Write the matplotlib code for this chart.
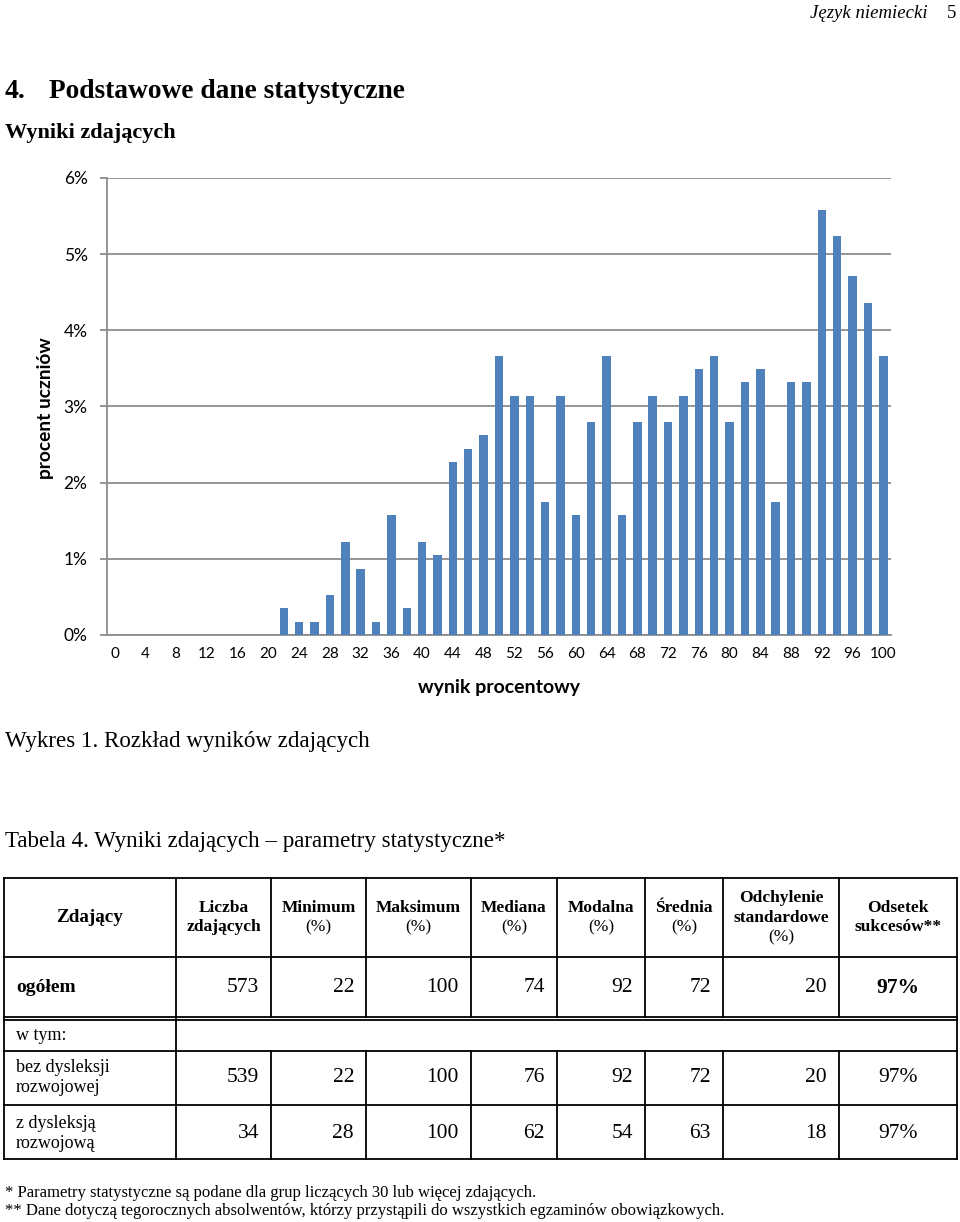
import matplotlib
matplotlib.use("Agg")
import matplotlib.pyplot as plt

# wynik procentowy (co 2 punkty) i procent uczniów
scores = list(range(0, 101, 2))
percent = [0.0] * 11 + [
    0.35, 0.17, 0.17, 0.52, 1.22, 0.87, 0.17, 1.57, 0.35, 1.22,
    1.05, 2.27, 2.44, 2.62, 3.66, 3.14, 3.14, 1.75, 3.14, 1.57,
    2.79, 3.66, 1.57, 2.79, 3.14, 2.79, 3.14, 3.49, 3.66, 2.79,
    3.32, 3.49, 1.75, 3.32, 3.32, 5.58, 5.24, 4.71, 4.36, 3.66,
]
y_ticks = [0, 1, 2, 3, 4, 5, 6]
x_tick_labels = [str(s) for s in range(0, 101, 4)]

# tabela
col_headers = [
    ["Zdający"],
    ["Liczba", "zdających"],
    ["Minimum", "(%)"],
    ["Maksimum", "(%)"],
    ["Mediana", "(%)"],
    ["Modalna", "(%)"],
    ["Średnia", "(%)"],
    ["Odchylenie", "standardowe", "(%)"],
    ["Odsetek", "sukcesów**"],
]
row_total = ["573", "22", "100", "74", "92", "72", "20", "97%"]
row_bez = ["539", "22", "100", "76", "92", "72", "20", "97%"]
row_z = ["34", "28", "100", "62", "54", "63", "18", "97%"]

SERIF = "Liberation Serif"
SANS = "Lato"
BAR = "#4F81BD"
GRID = "#8C8C8C"

W, H = 960, 1222
fig = plt.figure(figsize=(W / 100, H / 100), dpi=100)

page = fig.add_axes([0, 0, 1, 1])
page.set_xlim(0, W)
page.set_ylim(H, 0)
page.axis("off")

# nagłówki strony
page.text(928, 18, "Język niemiecki", family=SERIF, style="italic", fontsize=13.5,
          ha="right", va="baseline")
page.text(956, 18, "5", family=SERIF, fontsize=13.5, ha="right", va="baseline")
page.text(5, 98, "4.", family=SERIF, weight="bold", fontsize=20, va="baseline")
page.text(49, 98, "Podstawowe dane statystyczne", family=SERIF, weight="bold",
          fontsize=19.7, va="baseline")
page.text(5, 138, "Wyniki zdających", family=SERIF, weight="bold", fontsize=16,
          va="baseline")

# wykres
left, right, top, bottom = 107, 891, 178, 635
ax = fig.add_axes([left / W, 1 - bottom / H, (right - left) / W, (bottom - top) / H])
ax.set_facecolor("none")
ax.bar(scores, percent, width=1.1, color=BAR, zorder=3)
ax.set_xlim(-1, 101)
ax.set_ylim(0, 6)
ax.set_yticks(y_ticks)
ax.set_yticklabels([f"{t}%" for t in y_ticks], family=SANS, fontsize=12.5)
ax.set_xticks(range(0, 101, 4))
ax.set_xticklabels(x_tick_labels, family=SANS, fontsize=11)
ax.yaxis.grid(True, color=GRID, lw=1.3, zorder=0)
ax.tick_params(axis="y", length=5, width=1.3, color=GRID, pad=9)
ax.tick_params(axis="x", length=0, pad=9)
for s in ["top", "right"]:
    ax.spines[s].set_visible(False)
for s in ["left", "bottom"]:
    ax.spines[s].set_color(GRID)
    ax.spines[s].set_linewidth(1.3)

page.text(45, 408, "procent uczniów", family=SANS, weight="bold", fontsize=13.8,
          rotation=90, ha="center", va="center")
page.text(499, 687, "wynik procentowy", family=SANS, weight="bold", fontsize=14,
          ha="center", va="center")

page.text(5, 747, "Wykres 1. Rozkład wyników zdających", family=SERIF, fontsize=16.6,
          va="baseline")
page.text(5, 847, "Tabela 4. Wyniki zdających – parametry statystyczne*", family=SERIF,
          fontsize=16.6, va="baseline")

# tabela
xs = [4, 176, 271, 366, 471, 557, 645, 723, 839, 957]
y_top, y_head, y_tot, y_tot2, y_wtym, y_bez, y_z = 878, 957, 1017, 1020, 1051, 1105, 1159
lw = 1.3
for y in [y_top, y_head, y_tot, y_tot2, y_wtym, y_bez, y_z]:
    page.plot([xs[0], xs[-1]], [y, y], color="black", lw=lw)
for i, x in enumerate(xs):
    if i in (0, 1, len(xs) - 1):
        page.plot([x, x], [y_top, y_z], color="black", lw=lw)
    else:
        page.plot([x, x], [y_top, y_tot], color="black", lw=lw)
        page.plot([x, x], [y_wtym, y_z], color="black", lw=lw)

# nagłówki kolumn
head_mid = (y_top + y_head) / 2
for i, lines in enumerate(col_headers):
    cx = (xs[i] + xs[i + 1]) / 2
    n = len(lines)
    step = 19.5
    for k, line in enumerate(lines):
        cy = head_mid + (k - (n - 1) / 2) * step
        bold = line != "(%)"
        size = 13.8 if i == 0 else 12.5
        page.text(cx, cy, line, family=SERIF, weight="bold" if bold else "normal",
                  fontsize=size, ha="center", va="center")


def draw_row(values, cy, bold_last=False):
    for j, v in enumerate(values):
        c0, c1 = xs[j + 1], xs[j + 2]
        if j == len(values) - 1:
            page.text((c0 + c1) / 2, cy, v, family=SERIF, fontsize=15.5,
                      weight="bold" if bold_last else "normal", ha="center", va="center")
        else:
            page.text(c1 - 12, cy, v, family=SERIF, fontsize=15.5, ha="right",
                      va="center")


page.text(16, 988, "ogółem", family=SERIF, weight="bold", fontsize=14, va="center")
draw_row(row_total, 988, bold_last=True)
page.text(16, 1036, "w tym:", family=SERIF, fontsize=13, va="center")
page.text(16, 1068, "bez dysleksji", family=SERIF, fontsize=13, va="center")
page.text(16, 1088, "rozwojowej", family=SERIF, fontsize=13, va="center")
draw_row(row_bez, 1078)
page.text(16, 1123, "z dysleksją", family=SERIF, fontsize=13, va="center")
page.text(16, 1143, "rozwojową", family=SERIF, fontsize=13, va="center")
draw_row(row_z, 1133)

page.text(5, 1193, "* Parametry statystyczne są podane dla grup liczących 30 lub więcej zdających.",
          family=SERIF, fontsize=12, va="center")
page.text(5, 1211, "** Dane dotyczą tegorocznych absolwentów, którzy przystąpili do wszystkich "
          "egzaminów obowiązkowych.", family=SERIF, fontsize=12, va="center")

fig.savefig("out.png", dpi=100)
